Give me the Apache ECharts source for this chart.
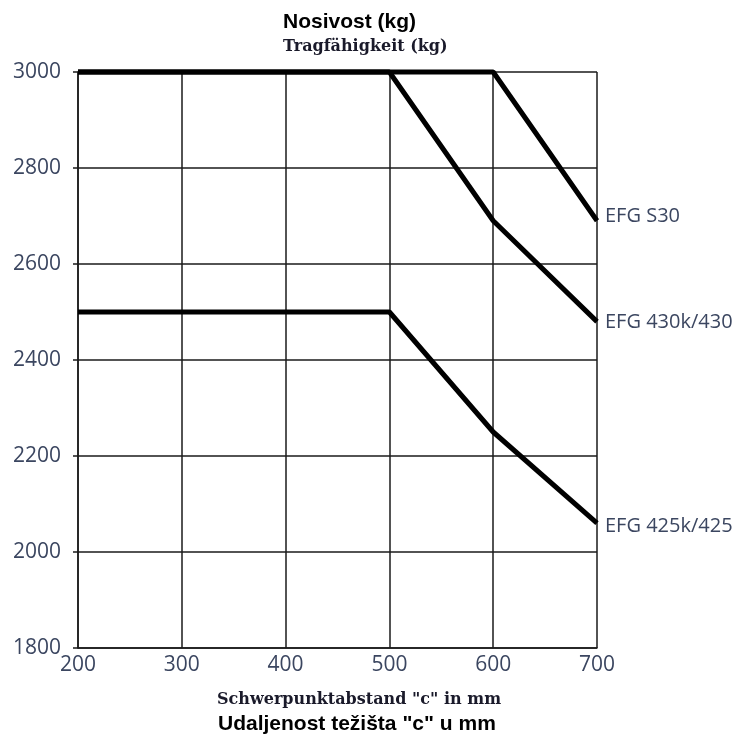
<!DOCTYPE html>
<html><head><meta charset="utf-8">
<script src="https://cdn.jsdelivr.net/npm/echarts@6/dist/echarts.min.js"></script>
<style>html,body{margin:0;padding:0;background:#fff}#c{width:746px;height:740px}</style>
</head><body><div id="c"></div>
<script>
var xValues = [200, 300, 400, 500, 600, 700];
var s30 = [3000, 3000, 3000, 3000, 3000, 2690];
var efg430 = [3000, 3000, 3000, 3000, 2690, 2480];
var efg425 = [2500, 2500, 2500, 2500, 2250, 2060];
var seriesNames = ['EFG S30', 'EFG 430k/430', 'EFG 425k/425'];
var seriesData = [s30, efg430, efg425];
var labelOffsets = [[0, -5], [0, 1], [0, 3]];

function pairs(arr){ return xValues.map(function(x,i){ return [x, arr[i]]; }); }

var labelColor = '#3b4660';
var chart = echarts.init(document.getElementById('c'));
chart.setOption({
  animation: false,
  backgroundColor: '#fff',
  graphic: [
    {type: 'text', left: 283, top: 12, style: {text: 'Nosivost (kg)', font: 'bold 21px "Liberation Sans", Arial', fill: '#000'}},
    {type: 'text', left: 283, top: 39, style: {text: 'Tragfähigkeit (kg)', font: 'bold 16px "DejaVu Serif"', fill: '#1a1a2a'}},
    {type: 'text', left: 217, top: 692, style: {text: 'Schwerpunktabstand "c" in mm', font: 'bold 16px "DejaVu Serif"', fill: '#1a1a2a'}},
    {type: 'text', left: 218, top: 714, style: {text: 'Udaljenost težišta "c" u mm', font: 'bold 21px "Liberation Sans", Arial', fill: '#000'}}
  ],
  grid: {left: 78, right: 149, top: 72, bottom: 92, containLabel: false},
  xAxis: {
    type: 'value', min: 200, max: 700, interval: 100,
    axisLine: {show: true, lineStyle: {color: '#1a1a1a', width: 1.5}},
    axisTick: {show: false},
    axisLabel: {color: labelColor, fontFamily: 'Open Sans', fontSize: 21, margin: 7},
    splitLine: {show: true, lineStyle: {color: '#1a1a1a', width: 1.5}}
  },
  yAxis: {
    type: 'value', min: 1800, max: 3000, interval: 200,
    axisLine: {show: true, lineStyle: {color: '#1a1a1a', width: 1.5}},
    axisTick: {show: true, length: 5, lineStyle: {color: '#1a1a1a', width: 1.5}},
    axisLabel: {color: labelColor, fontFamily: 'Open Sans', fontSize: 21, margin: 17,
                formatter: function(v){ return String(v); }},
    splitLine: {show: true, lineStyle: {color: '#1a1a1a', width: 1.5}}
  },
  series: seriesData.map(function(d, i){
    return {
      name: seriesNames[i], type: 'line', data: pairs(d),
      symbol: 'none', clip: false,
      lineStyle: {color: '#000', width: 5},
      endLabel: {show: true, formatter: '{a}', color: labelColor, fontFamily: 'Open Sans',
                 fontSize: 20, distance: 8, offset: labelOffsets[i]},
      z: 3
    };
  })
});
</script></body></html>
